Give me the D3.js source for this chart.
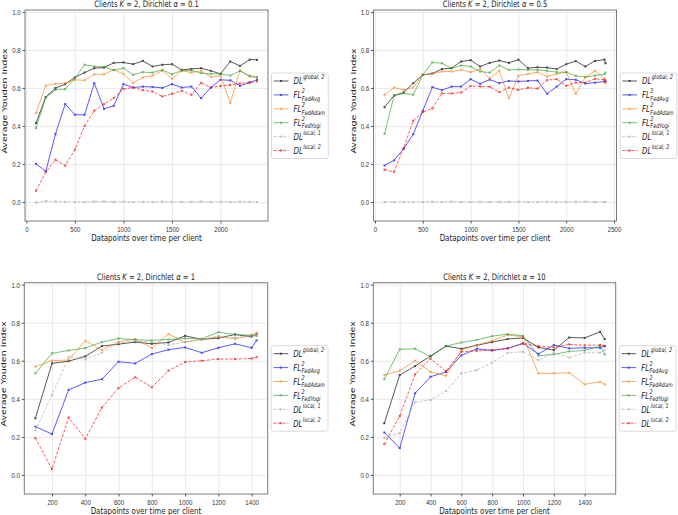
<!DOCTYPE html>
<html>
<head>
<meta charset="utf-8">
<script src="https://cdn.jsdelivr.net/npm/d3@7"></script>
<style>
  body { margin: 0; background: #fff; }
  svg { display: block; font-family: "DejaVu Sans", sans-serif; }
</style>
</head>
<body>
<svg id="chart" width="678" height="515"></svg>
<script>
// ---- data (Average Youden Index) ----
// Dirichlet alpha = 0.1
const xA01 = [100, 200, 300, 400, 500, 600, 700, 800, 900, 1000, 1100, 1200, 1300, 1400, 1500, 1600, 1700, 1800, 1900, 2000, 2100, 2200, 2300, 2375];
const dlGlobalA01 = [0.415, 0.552, 0.599, 0.62, 0.655, 0.681, 0.704, 0.707, 0.732, 0.734, 0.725, 0.742, 0.713, 0.722, 0.725, 0.695, 0.7, 0.704, 0.69, 0.674, 0.739, 0.716, 0.749, 0.748];
const flFedAvgA01 = [0.201, 0.161, 0.357, 0.515, 0.459, 0.459, 0.625, 0.49, 0.506, 0.62, 0.602, 0.607, 0.605, 0.6, 0.62, 0.602, 0.607, 0.546, 0.602, 0.643, 0.64, 0.611, 0.628, 0.643];
const flFedAdamA01 = [0.468, 0.613, 0.622, 0.625, 0.643, 0.64, 0.672, 0.672, 0.695, 0.674, 0.625, 0.655, 0.665, 0.69, 0.648, 0.69, 0.681, 0.69, 0.657, 0.664, 0.52, 0.692, 0.66, 0.655];
const flFedYogiA01 = [0.389, 0.55, 0.59, 0.594, 0.651, 0.722, 0.713, 0.711, 0.694, 0.704, 0.669, 0.683, 0.681, 0.695, 0.672, 0.692, 0.692, 0.678, 0.674, 0.674, 0.665, 0.69, 0.664, 0.657];
const dlLocal1A01 = [-0.003, 0.005, 0.003, 0.001, 0.0, 0.0, 0.002, 0.003, 0.001, 0.002, 0.0, 0.001, 0.0, 0.002, 0.001, 0.0, 0.001, 0.002, 0.0, 0.001, 0.0, 0.002, 0.001, 0.0];
const dlLocal2A01 = [0.059, 0.158, 0.222, 0.191, 0.275, 0.401, 0.48, 0.515, 0.546, 0.595, 0.602, 0.588, 0.581, 0.555, 0.569, 0.585, 0.564, 0.627, 0.602, 0.611, 0.616, 0.623, 0.63, 0.634];

// Dirichlet alpha = 0.5
const xA05 = [100, 200, 300, 400, 500, 600, 700, 800, 900, 1000, 1100, 1200, 1300, 1400, 1500, 1600, 1700, 1800, 1900, 2000, 2100, 2200, 2300, 2400, 2410];
const dlGlobalA05 = [0.499, 0.56, 0.576, 0.625, 0.669, 0.676, 0.699, 0.704, 0.739, 0.746, 0.713, 0.732, 0.744, 0.732, 0.749, 0.704, 0.709, 0.707, 0.699, 0.725, 0.741, 0.713, 0.742, 0.749, 0.73];
const flFedAvgA05 = [0.192, 0.219, 0.28, 0.357, 0.48, 0.604, 0.588, 0.607, 0.607, 0.646, 0.622, 0.644, 0.625, 0.637, 0.634, 0.637, 0.639, 0.569, 0.607, 0.646, 0.643, 0.623, 0.628, 0.634, 0.636];
const flFedAdamA05 = [0.564, 0.602, 0.59, 0.602, 0.669, 0.674, 0.686, 0.686, 0.695, 0.683, 0.699, 0.651, 0.69, 0.546, 0.664, 0.674, 0.683, 0.66, 0.674, 0.683, 0.569, 0.657, 0.69, 0.648, 0.64];
const flFedYogiA05 = [0.359, 0.56, 0.571, 0.564, 0.669, 0.734, 0.73, 0.704, 0.718, 0.713, 0.686, 0.681, 0.718, 0.695, 0.697, 0.695, 0.695, 0.69, 0.683, 0.683, 0.664, 0.657, 0.665, 0.672, 0.681];
const dlLocal1A05 = [0.0, 0.0, 0.0, 0.0, 0.0, 0.001, 0.0, 0.002, 0.0, 0.0, 0.001, 0.0, 0.001, 0.0, 0.002, 0.0, 0.0, 0.001, 0.0, 0.0, 0.001, 0.002, 0.0, 0.0, 0.0];
const dlLocal2A05 = [0.17, 0.159, 0.284, 0.427, 0.473, 0.492, 0.571, 0.571, 0.576, 0.61, 0.608, 0.606, 0.578, 0.602, 0.59, 0.601, 0.597, 0.641, 0.646, 0.611, 0.628, 0.628, 0.648, 0.643, 0.628];

// Dirichlet alpha = 1
const xA1 = [100, 200, 300, 400, 500, 600, 700, 800, 900, 1000, 1100, 1200, 1300, 1400, 1430];
const dlGlobalA1 = [0.298, 0.586, 0.598, 0.623, 0.677, 0.687, 0.698, 0.689, 0.696, 0.731, 0.712, 0.719, 0.738, 0.726, 0.74];
const flFedAvgA1 = [0.254, 0.215, 0.447, 0.485, 0.503, 0.595, 0.586, 0.635, 0.658, 0.67, 0.642, 0.668, 0.689, 0.668, 0.707];
const flFedAdamA1 = [0.569, 0.6, 0.604, 0.705, 0.656, 0.7, 0.714, 0.667, 0.74, 0.698, 0.712, 0.726, 0.715, 0.736, 0.747];
const flFedYogiA1 = [0.534, 0.639, 0.654, 0.667, 0.698, 0.717, 0.71, 0.707, 0.712, 0.717, 0.715, 0.75, 0.738, 0.733, 0.731];
const dlLocal1A1 = [0.234, 0.42, 0.62, 0.607, 0.642, 0.694, 0.703, 0.698, 0.684, 0.698, 0.712, 0.729, 0.722, 0.726, 0.736];
const dlLocal2A1 = [0.194, 0.031, 0.302, 0.19, 0.354, 0.457, 0.513, 0.461, 0.548, 0.593, 0.6, 0.609, 0.609, 0.612, 0.619];

// Dirichlet alpha = 10
const xA10 = [100, 200, 300, 400, 500, 600, 700, 800, 900, 1000, 1100, 1200, 1300, 1400, 1500, 1530];
const dlGlobalA10 = [0.272, 0.525, 0.572, 0.625, 0.677, 0.663, 0.681, 0.698, 0.714, 0.72, 0.67, 0.656, 0.722, 0.72, 0.752, 0.714];
const flFedAvgA10 = [0.223, 0.141, 0.429, 0.516, 0.541, 0.628, 0.663, 0.654, 0.665, 0.691, 0.636, 0.682, 0.665, 0.668, 0.668, 0.677];
const flFedAdamA10 = [0.524, 0.548, 0.6, 0.541, 0.521, 0.656, 0.682, 0.705, 0.735, 0.726, 0.534, 0.534, 0.537, 0.476, 0.49, 0.476];
const flFedYogiA10 = [0.503, 0.66, 0.663, 0.621, 0.677, 0.696, 0.71, 0.729, 0.74, 0.731, 0.626, 0.634, 0.649, 0.654, 0.678, 0.634];
const dlLocal1A10 = [0.194, 0.22, 0.382, 0.394, 0.441, 0.534, 0.551, 0.59, 0.642, 0.647, 0.604, 0.642, 0.616, 0.642, 0.642, 0.656];
const dlLocal2A10 = [0.162, 0.31, 0.529, 0.611, 0.545, 0.647, 0.652, 0.656, 0.665, 0.691, 0.677, 0.67, 0.686, 0.681, 0.683, 0.677];

const yTicks = [0.0, 0.2, 0.4, 0.6, 0.8, 1.0];
const xTicksLong = [0, 500, 1000, 1500, 2000];
const xTicksLong2 = [0, 500, 1000, 1500, 2000, 2500];
const xTicksShort = [200, 400, 600, 800, 1000, 1200, 1400];

const legendBase = ['DL', 'FL', 'FL', 'FL', 'DL', 'DL'];
const legendSup = ['global, 2', '2', '2', '2', 'local, 1', 'local, 2'];
const legendSub = ['', 'FedAvg', 'FedAdam', 'FedYogi', '', ''];
const seriesColors = ['#000000', '#0000ff', '#ff7f0e', '#2ca02c', '#a9a9a9', '#ff0000'];
const seriesDash = [null, null, null, null, '3,1.6', '3,1.6'];

// ---- layout ----
const SY = 1.3; // the figure is stretched vertically
const svg = d3.select('#chart');

const panels = [
  { alpha: '0.1', l: 25, t: 10, r: 268, b: 221, xs: xA01, xTicks: xTicksLong,
    ys: [dlGlobalA01, flFedAvgA01, flFedAdamA01, flFedYogiA01, dlLocal1A01, dlLocal2A01] },
  { alpha: '0.5', l: 373.5, t: 10, r: 616.5, b: 221, xs: xA05, xTicks: xTicksLong2,
    ys: [dlGlobalA05, flFedAvgA05, flFedAdamA05, flFedYogiA05, dlLocal1A05, dlLocal2A05] },
  { alpha: '1', l: 24.3, t: 282.7, r: 267.7, b: 494, xs: xA1, xTicks: xTicksShort,
    ys: [dlGlobalA1, flFedAvgA1, flFedAdamA1, flFedYogiA1, dlLocal1A1, dlLocal2A1] },
  { alpha: '10', l: 373.3, t: 282.7, r: 615.7, b: 494, xs: xA10, xTicks: xTicksShort,
    ys: [dlGlobalA10, flFedAvgA10, flFedAdamA10, flFedYogiA10, dlLocal1A10, dlLocal2A10] }
];

function stretchText(sel, x, y) {
  return sel.attr('transform', 'translate(' + x + ',' + y + ') scale(1,' + SY + ')');
}

panels.forEach(function (p) {
  const ext = d3.extent(p.xs);
  const pad = (ext[1] - ext[0]) * 0.05;
  const x = d3.scaleLinear().domain([ext[0] - pad, ext[1] + pad]).range([p.l, p.r]);
  const y = d3.scaleLinear().domain([-0.1, 1.01]).range([p.b, p.t]);
  const g = svg.append('g');

  // grid
  g.append('g').attr('transform', 'translate(0,' + p.b + ')')
    .call(d3.axisBottom(x).tickValues(p.xTicks).tickSize(-(p.b - p.t)).tickFormat(''))
    .call(s => s.select('.domain').remove())
    .selectAll('line').attr('stroke', '#e3e3e3').attr('stroke-width', 0.8);
  g.append('g').attr('transform', 'translate(' + p.l + ',0)')
    .call(d3.axisLeft(y).tickValues(yTicks).tickSize(-(p.r - p.l)).tickFormat(''))
    .call(s => s.select('.domain').remove())
    .selectAll('line').attr('stroke', '#e3e3e3').attr('stroke-width', 0.8);

  // series
  const line = d3.line().x(d => x(d[0])).y(d => y(d[1]));
  p.ys.forEach(function (vals, i) {
    const pts = p.xs.map((xv, j) => [xv, vals[j]]);
    const sg = g.append('g').attr('opacity', 0.72);
    sg.append('path').datum(pts)
      .attr('d', line).attr('fill', 'none')
      .attr('stroke', seriesColors[i]).attr('stroke-width', 0.9)
      .attr('stroke-dasharray', seriesDash[i]);
    sg.selectAll('rect').data(pts).enter().append('rect')
      .attr('x', d => x(d[0]) - 1).attr('y', d => y(d[1]) - 1)
      .attr('width', 2).attr('height', 2).attr('fill', seriesColors[i]);
  });

  // frame
  g.append('rect').attr('x', p.l).attr('y', p.t)
    .attr('width', p.r - p.l).attr('height', p.b - p.t)
    .attr('fill', 'none').attr('stroke', '#7a7a7a').attr('stroke-width', 1);

  // axes
  const ax = g.append('g').attr('transform', 'translate(0,' + p.b + ')')
    .call(d3.axisBottom(x).tickValues(p.xTicks).tickSize(2.5).tickFormat(d3.format('d')));
  ax.select('.domain').remove();
  ax.selectAll('line').attr('stroke', '#555');
  ax.selectAll('text').attr('y', null).attr('dy', '0.35em')
    .attr('font-size', 6.1).attr('fill', '#333')
    .attr('transform', 'translate(0,7.8) scale(1,' + SY + ')');

  const ay = g.append('g').attr('transform', 'translate(' + p.l + ',0)')
    .call(d3.axisLeft(y).tickValues(yTicks).tickSize(2.5).tickPadding(1.8).tickFormat(d3.format('.1f')));
  ay.select('.domain').remove();
  ay.selectAll('line').attr('stroke', '#555');
  ay.selectAll('text').attr('dy', '0.35em').attr('font-size', 6.1).attr('fill', '#333')
    .attr('transform', 'scale(1,' + SY + ')');

  // title
  const tt = stretchText(g.append('text'), (p.l + p.r) / 2, p.t - 2.6)
    .attr('text-anchor', 'middle').attr('font-size', 6.8).attr('fill', '#222');
  tt.append('tspan').text('Clients ');
  tt.append('tspan').attr('font-style', 'italic').text('K');
  tt.append('tspan').text(' = 2, Dirichlet ');
  tt.append('tspan').attr('font-style', 'italic').text('α');
  tt.append('tspan').text(' = ' + p.alpha);

  // axis labels
  stretchText(g.append('text'), (p.l + p.r) / 2, p.b + 19.5)
    .attr('text-anchor', 'middle').attr('font-size', 7.1).attr('fill', '#222')
    .text('Datapoints over time per client');
  g.append('text')
    .attr('transform', 'translate(' + (p.l - 18) + ',' + ((p.t + p.b) / 2 - 14.5) + ') scale(1,' + SY + ') rotate(-90)')
    .attr('text-anchor', 'middle').attr('font-size', 7.3).attr('fill', '#222')
    .text('Average Youden Index');

  // legend
  const lx = p.r + 3.5, ly = p.t + 63;
  const lg = g.append('g');
  lg.append('rect').attr('x', lx).attr('y', ly).attr('width', 56.8).attr('height', 85.5)
    .attr('rx', 2).attr('fill', '#fff').attr('stroke', '#d0d0d0').attr('stroke-width', 0.8);
  legendBase.forEach(function (base, i) {
    const ry = ly + 8 + i * 13.9;
    const eg = lg.append('g').attr('opacity', 0.72);
    eg.append('line').attr('x1', lx + 2.3).attr('x2', lx + 17).attr('y1', ry).attr('y2', ry)
      .attr('stroke', seriesColors[i]).attr('stroke-width', 0.9)
      .attr('stroke-dasharray', seriesDash[i]);
    eg.append('rect').attr('x', lx + 8.6).attr('y', ry - 1).attr('width', 2).attr('height', 2)
      .attr('fill', seriesColors[i]);
    const tg = stretchText(lg.append('g'), lx + 22, ry)
      .attr('font-style', 'italic').attr('fill', '#222');
    const bt = tg.append('text').attr('y', 2.6).attr('font-size', 7).text(base);
    const w = bt.node().getComputedTextLength();
    tg.append('text').attr('x', w + 0.4).attr('y', -1.2).attr('font-size', 4.9).text(legendSup[i]);
    if (legendSub[i]) {
      tg.append('text').attr('x', w + 0.4).attr('y', 4.4).attr('font-size', 4.9).text(legendSub[i]);
    }
  });
});
</script>
</body>
</html>
